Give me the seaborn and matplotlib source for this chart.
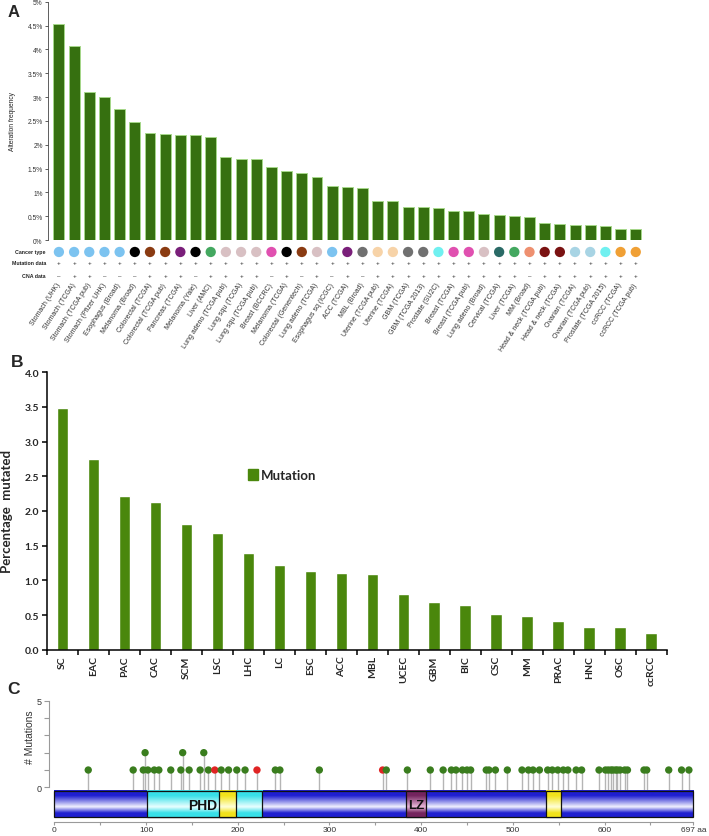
import numpy as np
import matplotlib
matplotlib.use("Agg")
import matplotlib.pyplot as plt
import matplotlib.transforms as mtransforms
from matplotlib.colors import LinearSegmentedColormap
from matplotlib.patches import Rectangle, Patch
import seaborn as sns

# ---- Panel A: alteration frequency per study ----
studies = ["Stomach (UHK)", "Stomach (TCGA)", "Stomach (TCGA pub)", "Stomach (Pfizer UHK)",
           "Esophagus (Broad)", "Melanoma (Broad)", "Colorectal (TCGA)", "Colorectal (TCGA pub)",
           "Pancreas (TCGA)", "Melanoma (Yale)", "Liver (AMC)", "Lung adeno (TCGA pub)",
           "Lung squ (TCGA)", "Lung squ (TCGA pub)", "Breast (BCCRC)", "Melanoma (TCGA)",
           "Colorectal (Genentech)", "Lung adeno (TCGA)", "Esophagus sq (ICGC)", "ACC (TCGA)",
           "MBL (Broad)", "Uterine (TCGA pub)", "Uterine (TCGA)", "GBM (TCGA)", "GBM (TCGA 2013)",
           "Prostate (SU2C)", "Breast (TCGA)", "Breast (TCGA pub)", "Lung adeno (Broad)",
           "Cervical (TCGA)", "Liver (TCGA)", "MM (Broad)", "Head & neck (TCGA pub)",
           "Head & neck (TCGA)", "Ovarian (TCGA)", "Ovarian (TCGA pub)", "Prostate (TCGA 2015)",
           "ccRCC (TCGA)", "ccRCC (TCGA pub)"]
alt_freq = [4.54, 4.06, 3.10, 3.00, 2.74, 2.48, 2.25, 2.23, 2.21, 2.21, 2.17, 1.74, 1.69,
            1.69, 1.54, 1.45, 1.40, 1.32, 1.14, 1.12, 1.09, 0.815, 0.815, 0.69, 0.69, 0.67,
            0.61, 0.60, 0.556, 0.52, 0.507, 0.486, 0.367, 0.332, 0.318, 0.318, 0.304, 0.241, 0.241]
type_colors = ["#7cc3f0"] * 5 + ["#000000", "#8a3b12", "#8a3b12", "#7a1f7a", "#000000",
               "#44a860", "#d8c0c3", "#d8c0c3", "#d8c0c3", "#e050b0", "#000000", "#8a3b12",
               "#d8c0c3", "#7cc3f0", "#7a1f7a", "#707070", "#f7d3a8", "#f7d3a8", "#707070",
               "#707070", "#70f0f0", "#e050b0", "#e050b0", "#d8c0c3", "#2a6a66", "#44a860",
               "#ee9070", "#7a1212", "#7a1212", "#a8d4e4", "#a8d4e4", "#70f0f0", "#f0a035",
               "#f0a035"]
mutation_data = ["+"] * 39
cna_data = ["–", "+", "+", "–", "–", "–", "+", "+", "+", "–", "+", "+", "+", "+", "–", "+",
            "–", "+", "–", "+", "–"] + ["+"] * 10 + ["–"] + ["+"] * 7

# ---- Panel B: percentage mutated per cancer type ----
cancer_abbr = ["SC", "EAC", "PAC", "CAC", "SCM", "LSC", "LHC", "LC", "ESC", "ACC", "MBL",
               "UCEC", "GBM", "BIC", "CSC", "MM", "PRAC", "HNC", "OSC", "ccRCC"]
pct_mutated = [3.49, 2.75, 2.21, 2.13, 1.81, 1.68, 1.40, 1.22, 1.14, 1.11, 1.09, 0.80, 0.69,
               0.64, 0.52, 0.49, 0.41, 0.33, 0.32, 0.24]

# ---- Panel C: lollipop of mutations along the protein ----
mut_pos = [37, 86, 97, 99, 102, 109, 114, 127, 138, 140, 147, 159, 163, 168, 175, 182, 190,
           199, 208, 221, 241, 246, 289, 358, 362, 385, 410, 424, 433, 438, 445, 450, 454, 471,
           474, 481, 494, 510, 517, 522, 529, 538, 543, 549, 555, 560, 569, 575, 594, 601, 604,
           607, 609, 612, 614, 617, 622, 625, 643, 646, 670, 684, 692]
mut_count = [1] * len(mut_pos)
for p in (99, 140, 163):
    mut_count[mut_pos.index(p)] = 2
mut_kind = ["missense"] * len(mut_pos)
for p in (175, 221, 358):
    mut_kind[mut_pos.index(p)] = "truncating"
protein_len = 697
domain_names = ["PHD", "", "LZ", ""]
domain_start = [101, 180, 384, 536]
domain_end = [227, 198, 405, 552]
domain_dark = ["#38e0e8", "#f2e21a", "#74245e", "#f2e21a"]
domain_light = ["#eaffff", "#ffffd8", "#e8b8d8", "#ffffd8"]

sns.set_style("ticks")
plt.rcParams["font.family"] = ["Liberation Sans", "DejaVu Sans"]

fig = plt.figure(figsize=(7.09, 8.37), dpi=100)

# ================= A =================
axA = fig.add_axes([0.0681, 0.712, 0.9117 - 0.0681, 0.9968 - 0.712])
sns.barplot(x=studies, y=alt_freq, color="#367010", saturation=1, width=0.72,
            edgecolor="#a6d88a", linewidth=0.7, ax=axA)
axA.set_xlim(-0.7, 38.7)
axA.set_ylim(0, 5)
yt = np.arange(0, 5.01, 0.5)
axA.set_yticks(yt)
axA.set_yticklabels([f"{v:g}%" for v in yt], fontsize=4.8, color="#333333")
axA.tick_params(axis="y", length=2.5, width=0.6, pad=1.5, color="#444444")
axA.tick_params(axis="x", length=0, pad=31)
plt.setp(axA.get_xticklabels(), rotation=57, ha="right", va="center",
         rotation_mode="anchor", fontsize=5, color="#333333")
sns.despine(ax=axA, bottom=True)
axA.spines["left"].set_linewidth(0.6)
axA.spines["left"].set_color("#444444")
axA.set_ylabel("Alteration frequency", fontsize=4.8, color="#222222")
axA.yaxis.set_label_coords(-0.054, 0.5)

xs = np.arange(len(studies))
sns.scatterplot(x=xs, y=[-0.25] * len(xs), hue=studies, palette=dict(zip(studies, type_colors)),
                s=55, edgecolor="none", legend=False, ax=axA)
axA.collections[-1].set_clip_on(False)
trA = mtransforms.blended_transform_factory(axA.transAxes, axA.transData)
for lab, yy in [("Cancer type", -0.25), ("Mutation data", -0.48), ("CNA data", -0.75)]:
    axA.text(-0.004, yy, lab, transform=trA, ha="right", va="center", fontsize=3.8,
             weight="bold", color="#222222")
for i in range(len(xs)):
    axA.text(i, -0.48, mutation_data[i], ha="center", va="center", fontsize=4.5, clip_on=False)
    axA.text(i, -0.75, cna_data[i], ha="center", va="center", fontsize=4.5, clip_on=False)
axA.set_xlim(-0.7, 38.7)
axA.set_ylim(0, 5)

# ================= B =================
axB = fig.add_axes([0.0663, 0.2226, 0.9405 - 0.0663, 0.554 - 0.2226])
barB = "#4a870c"
sns.barplot(x=cancer_abbr, y=pct_mutated, color=barB, saturation=1, width=0.38, ax=axB)
axB.set_xlim(-0.5, 19.5)
axB.set_ylim(0, 4)
ytb = np.arange(0, 4.01, 0.5)
axB.set_yticks(ytb)
axB.set_yticklabels([f"{v:.1f}" for v in ytb], fontsize=7.5, weight="bold", family="Lato")
axB.set_xticks(np.arange(-0.5, 20, 1), minor=True)
axB.tick_params(axis="x", which="major", length=0, pad=4)
axB.tick_params(axis="x", which="minor", length=3.5, width=1.1, color="black")
axB.tick_params(axis="y", length=3.5, width=1.1, color="black", pad=2)
plt.setp(axB.get_xticklabels(), rotation=90, fontsize=7.5, weight="bold", family="Lato")
sns.despine(ax=axB)
for s in ("left", "bottom"):
    axB.spines[s].set_linewidth(1.1)
    axB.spines[s].set_color("black")
axB.set_ylabel("Percentage  mutated", fontsize=9.5, weight="bold", family="Lato")
axB.yaxis.set_label_coords(-0.055, 0.5)
axB.set_xlabel("")
axB.legend(handles=[Patch(color=barB)], labels=["Mutation"], loc="center left",
           bbox_to_anchor=(0.305, 0.63), frameon=False, handlelength=0.75, handleheight=0.9,
           handletextpad=0.25, prop={"family": "Lato", "weight": "bold", "size": 9.5})

# ================= C =================
axC = fig.add_axes([0.0691, 0.0167, 0.982 - 0.0691, 0.1617 - 0.0167])
axC.set_xlim(-5.8, 700)
axC.set_ylim(-2.0, 5.0)
bar_y0, bar_y1 = -1.73, -0.2


def cylinder(ax, x0, x1, dark, light, z):
    cmap = LinearSegmentedColormap.from_list("cyl", [(0, dark), (0.2, dark), (0.62, light),
                                                     (0.85, dark), (1, dark)])
    grad = np.linspace(0, 1, 120).reshape(-1, 1)
    ax.imshow(grad, extent=(x0, x1, bar_y0, bar_y1), aspect="auto", cmap=cmap,
              origin="upper", zorder=z, interpolation="bilinear")
    ax.add_patch(Rectangle((x0, bar_y0), x1 - x0, bar_y1 - bar_y0, fill=False,
                           edgecolor="#111111", linewidth=0.9, zorder=z + 0.5))


axC.vlines(mut_pos, bar_y1, mut_count, color="#b5b5b5", linewidth=1.0, zorder=1)
cylinder(axC, 0, protein_len, "#1f1fd0", "#f2f2ff", 2)
for i in range(len(domain_start)):
    cylinder(axC, domain_start[i], domain_end[i], domain_dark[i], domain_light[i],
             3 if domain_names[i] else 5)
axC.text(162, (bar_y0 + bar_y1) / 2 - 0.05, "PHD", ha="center", va="center", fontsize=10,
         weight="bold", color="#111111", zorder=4)
axC.text(394.5, (bar_y0 + bar_y1) / 2 - 0.05, "LZ", ha="center", va="center", fontsize=9.5,
         weight="bold", color="#111111", zorder=4)
sns.scatterplot(x=mut_pos, y=mut_count, hue=mut_kind,
                palette={"missense": "#3a7d1e", "truncating": "#e02424"},
                s=28, edgecolor="none", legend=False, ax=axC, zorder=6)
axC.collections[-1].set_clip_on(False)

axC.set_yticks([0, 1, 2, 3, 4, 5])
axC.set_yticklabels(["0", "", "", "", "", "5"])
axC.set_xticks(list(range(0, 601, 100)) + [protein_len])
axC.set_xticklabels([str(v) for v in range(0, 601, 100)] + ["697 aa"])
axC.set_xticks(list(range(50, 651, 100)), minor=True)
axC.tick_params(axis="both", which="both", color="#9a9a9a", labelcolor="#333333",
                labelsize=6.5, width=0.8, length=3.5, pad=1.5)
axC.tick_params(axis="x", which="both", length=2.5, pad=0.5, labelsize=6)
sns.despine(ax=axC)
axC.spines["left"].set_bounds(0, 5)
axC.spines["bottom"].set_bounds(0, protein_len)
for s in ("left", "bottom"):
    axC.spines[s].set_color("#9a9a9a")
    axC.spines[s].set_linewidth(0.8)
axC.set_ylabel("# Mutations", fontsize=7.5, color="#333333")
axC.yaxis.set_label_coords(-0.022, 0.71)
axC.set_xlim(-5.8, 700)
axC.set_ylim(-2.0, 5.0)

# panel letters
fig.text(0.010, 0.994, "A", fontsize=12, weight="bold", va="top")
fig.text(0.016, 0.576, "B", fontsize=12.5, weight="bold", va="top")
fig.text(0.010, 0.185, "C", fontsize=12.5, weight="bold", va="top")

fig.savefig("out.png", dpi=100)
